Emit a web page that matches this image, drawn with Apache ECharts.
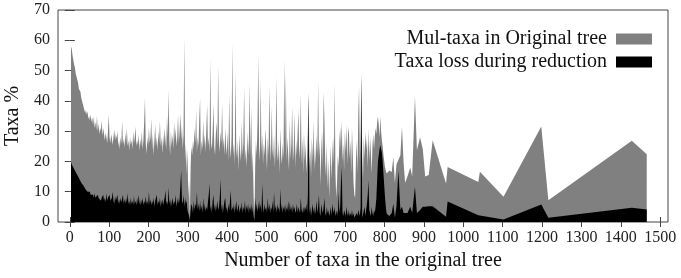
<!DOCTYPE html>
<html>
<head>
<meta charset="utf-8">
<script src="https://cdn.jsdelivr.net/npm/echarts@6/dist/echarts.min.js"></script>
<style>html,body{margin:0;padding:0;background:#fff}#c{width:681px;height:278px}</style>
</head>
<body>
<div id="c"></div>
<script>
// ---- data ----
const taxa = [
 3,5,7,9,11,13,15,17,19,21, 23,25,27,29,31,33,35,37,39,41, 43,45,47,49,51,53,55,57,59,61,
 63,65,67,69,71,73,75,77,79,81, 83,85,87,89,91,93,95,97,99,101, 103,105,107,109,111,113,115,117,119,121,
 123,125,127,129,131,133,135,137,139,141, 143,145,147,149,151,153,155,157,159,161, 163,165,167,169,171,173,175,177,179,181,
 183,185,187,189,191,193,195,197,199,
 201,203,205,207,209,211,213,215,217,219, 221,223,225,227,229,231,233,235,237,239, 241,243,245,247,249,251,253,255,257,259,
 261,263,265,267,269,271,273,275,277,279, 281,283,285,287,289,291,293,295,297,299, 301,303,305,307,309,
 311,313,315,317,319,321,323,325,327,329, 331,333,335,337,339,341,343,345,347,349, 351,353,355,357,359,361,363,365,367,369,
 371,373,375,377,379,381,383,385,387,389, 391,393,395,397,
 399,401,403,405,407,409,411,413,415,417, 419,421,423,425,427,429,431,433,435,437, 439,441,443,445,447,449,451,453,455,457,
 459,461,463,465,467,469,471,473,475,477, 479,481,483,485,487,489,491,493,495,497, 499,501,503,505,507,509,511,513,515,517,
 519,521,523,525,527,529,531,533,535,537, 539,541,543,545,547,549,551,553,555,557, 559,561,563,565,567,569,571,573,575,577,
 579,581,583,585,587,589,591,593,
 595,597,599,601,603,605,607,609,611,613, 615,617,619,621,623,625,627,629,631,633, 635,637,639,641,643,645,647,649,651,653,
 655,657,659,661,663,665,667,669,671,673, 675,677,679,681,683,685,687,689,691,693, 695,697,699,701,703,705,707,709,711,713,
 715,717,719,721,723,725,727,729,731,733, 735,737,739,741,743,745,747,749,751,753, 755,757,759,761,763,765,767,769,771,773,
 775,777,779,781,783,785,787,789,791,793, 795,797,799,801,803,805,
 812,818,822,826,830,835,840,844,848,852, 858,865,870,877,882,890,897,903,912,922, 956,960,1038,1042,1102,1198,1216,1428,1466
];
const mulTaxa = [
 58,57,55,54.5,52,51,49,48.5,47,46, 44,44.5,43,41,40.5,39,38,37.5,36,37, 35.5,36.5,34,35,33.5,35.5,33,34.5,32,34.8,
 31,33,30.5,35,30,32.5,29,31,30,33.5, 28.5,31,29,27,29.5,28,26,30,35.5,28, 26,29,27.5,25.5,28,30.5,27,29,27.5,30,
 25,27,24,28,26,33.5,25.5,27.5,24.5,29.5, 26,31,25,27,23.5,28,25.5,27,24,30, 26,28,31.5,25,27,25.5,29,23.5,27.5,25,
 30,24,27,33,41,26,22.5,28,25,
 31,26,28,34,24,29,22,27,32,25, 28,23.5,30,26,33.5,25,28,22.5,29,25, 31,27,24,35,28,43.5,27,22,30,25,
 29,24,33,27,31,25,28,35.5,26,30, 36,27,32,24,29,61,20,26,16,24, 8,14,1,18,25,
 22,27,24,31,26,37,23,28,25,34, 40.8,22,27,24,33.6,25,29,23,31,38.6, 25,28,23,54,26,24,30,39,25,22,
 29,33,25,51.8,27,23,30,26,39,24, 28,22,31,25,
 22,30,20,42,25,21,28,59,22,26, 19,49.6,24,21,27,17,29,23,20,33, 22,26,44.7,20,24,18,30,22,27,45.8,
 21,38,16,23,9,0.5,18,27,22,33, 55,25,20,47,23,29,19,26,22,31, 24,17,28,22,45,26,20,38,24,21,
 29,18,25,48,23,20,27,16,31,22, 19,26,21,54,24,49,20,28,22,17, 33.6,21,26,38,20,24,36,18,27,22,
 30,37,21,25,42.4,19,28,16,
 30,20,26,16,22,31,43,18,24,15, 28,20,33.6,17,25,19,29,22,46.4,21, 27,12,24,30,18,43,33.6,20,15,26,
 11,21,8,17,25,14,22,28,19,45.8, 16,8,13,22,18,27,31,24,33.7,20, 26,17,30,23,32,19,29,31.4,21,27,
 16,31,22,13,9,8,20,27,16,35, 44.7,20,30,49,22,14,28,21,30,24, 27.5,18,31,20,28,23,16,25,29,24,
 28,31,29,33,34.8,32,28,34.8,30,27, 25,22,20,18,17,16,
 17,16.5,21.5,13,19,19.5,22,31.5,20,13, 15,18,15,41.4,23.7,28,24,15,15.5,27, 12.7,18.2,13.2,16.6,8.3,31.5,7.2,26.8,22.4
];
const taxaLoss = [
 20,19,18.5,18,17.5,17,16.5,16,15.5,15, 14.5,14,13.5,13,12.5,13,12,11.5,11,11.5, 10.5,10,10.5,9.5,10,9,9.5,8.5,9,8,
 9.5,8,8.5,7.5,9,8,7.5,8.5,7,8, 7.5,9,7,8,6.5,9.5,7,8,7.5,9, 7,6.5,8,10,7,6,8.5,7,6.5,9,
 6,7.5,6,8,6.5,7,9,6,7.5,6, 8,6.5,9.5,6,7,5.5,8,6,7,5.5, 8.5,6,7,5.5,8,6,9,6.5,5.5,7.5,
 6,8,5.5,7,6,8.5,6,7,5.5,
 10,6,7.5,5.5,7,6,8,5,7,6.5, 9,5.5,7,6,8,5,6.5,7.5,5.5,6, 8,10.5,6,7,5.5,11.5,6,7.5,5,6.5,
 8,5.5,7,6,9,5,6.5,8,6,7.5, 12,17,7,6,9,5,8,6,7,4, 3,2,0.5,4,6,
 5,3,7,4,6,5,10,4,6,3.5, 7,4,5.5,3,8,4,6,3.5,5,4, 6.5,9,12.7,4,5.5,3,7,9,4,6,
 3.5,5,7,4,5,8,14.3,4,6,3, 5,7,8,4,
 5,3,6,4,7,10.5,3.5,5,4,6, 3,5,7,3.5,4.5,6,3,5,4,6.5, 3,5,4,7,3,5.5,4,6,3,5,
 4,6,3,5,2,0.3,8,4,6,3.5, 5,7,4,6,3,12.7,5,3,6,4, 5,3,8,4,6,3,5,4,7,3,
 9.9,4,5.5,3,6,4,5,3,11,4, 6,3,5,4,6,3,5,4,7,3, 6.5,4,5,3,6,4,5,3,4,6,
 3,5,4,3,8,4,3,5,
 3,5,4,6,3,9,42,3,5,2, 4,6,3,5,2.5,4,7,3,5,9, 3,2,6,4,3,5,8,3,2,5,
 3,4,2,3,5,2,6,4,3,5, 2,3,4,2,10,3,5,13,18.2,3, 2,4,3,2,5,3,2,4,2,3,
 2,4,2,3,1.5,1,2,3,2,4, 3,2,5,49,1.5,2.5,3,5,2,4, 6,9,13.8,4,3,2,5,3,2,4,
 3,5,8,14,20,22,24,25.4,24,23, 20,16,12,8,5,2.8,
 2,3,6,1.5,5,17,4,5,3,2.8, 3,5,3,11.6,3,4,5,5,5.2,5.2, 1.7,6.8,2.2,2.4,0.8,5.8,1.4,4.7,4.1
];
const xTicks = [0,100,200,300,400,500,600,700,800,900,1000,1100,1200,1300,1400,1500];
const seriesNames = ['Mul-taxa in Original tree', 'Taxa loss during reduction'];
const xTitle = 'Number of taxa in the original tree';
const yTitle = 'Taxa %';

// ---- chart ----
const font = 'Liberation Serif';
const grayData = taxa.map((x, i) => [x, mulTaxa[i]]);
const blackData = taxa.map((x, i) => [x, taxaLoss[i]]);
const frame = '#444';
const tickRich = {t: {fontFamily: font, fontSize: 16, color: '#222'}};
const chart = echarts.init(document.getElementById('c'), null, {renderer: 'canvas'});
chart.setOption({
  animation: false,
  backgroundColor: '#fff',
  textStyle: {fontFamily: font},
  grid: {left: 58, right: 13, top: 10, bottom: 56, show: true, borderColor: frame, borderWidth: 1,
         backgroundColor: 'transparent', containLabel: false, outerBoundsMode: 'none'},
  legend: {
    orient: 'vertical', right: 24, top: 24, align: 'right',
    itemWidth: 36, itemHeight: 11, itemGap: 3,
    icon: 'rect',
    textStyle: {fontFamily: font, fontSize: 20, color: '#111', lineHeight: 20, padding: [0, 4, 0, 0]},
    data: seriesNames
  },
  xAxis: [{
    type: 'value', min: -30, max: 1520, position: 'bottom',
    name: xTitle, nameLocation: 'middle', nameGap: 29,
    nameTextStyle: {fontFamily: font, fontSize: 20, color: '#111'},
    axisLine: {show: false},
    axisTick: {show: true, inside: true, length: 5, customValues: xTicks, lineStyle: {color: frame}},
    axisLabel: {customValues: xTicks, margin: 8, formatter: v => '{t|' + v + '}', rich: tickRich,
                fontFamily: font, fontSize: 16, color: '#222'},
    splitLine: {show: false}
  }, {
    type: 'value', min: -30, max: 1520, position: 'top',
    axisLine: {show: false},
    axisTick: {show: true, inside: true, length: 5, customValues: xTicks, lineStyle: {color: frame}},
    axisLabel: {show: false},
    splitLine: {show: false}
  }],
  yAxis: [{
    type: 'value', min: 0, max: 70, interval: 10, position: 'left',
    name: yTitle, nameLocation: 'middle', nameGap: 34, nameRotate: 90,
    nameTextStyle: {fontFamily: font, fontSize: 20, color: '#111'},
    axisLine: {show: false},
    axisTick: {show: true, inside: true, length: 5, lineStyle: {color: frame}},
    axisLabel: {margin: 8, formatter: v => '{t|' + v + '}', rich: tickRich,
                fontFamily: font, fontSize: 16, color: '#222'},
    splitLine: {show: false}
  }, {
    type: 'value', min: 0, max: 70, interval: 10, position: 'right',
    axisLine: {show: false},
    axisTick: {show: true, inside: true, length: 5, lineStyle: {color: frame}},
    axisLabel: {show: false},
    splitLine: {show: false}
  }],
  series: [{
    name: seriesNames[0], type: 'line', xAxisIndex: 0, yAxisIndex: 0,
    data: grayData, showSymbol: false, symbol: 'none',
    color: '#808080', itemStyle: {color: '#808080'},
    lineStyle: {width: 0, color: '#808080'},
    areaStyle: {color: '#808080', opacity: 1},
    z: 2
  }, {
    name: seriesNames[1], type: 'line', xAxisIndex: 0, yAxisIndex: 0,
    data: blackData, showSymbol: false, symbol: 'none',
    color: '#000', itemStyle: {color: '#000'},
    lineStyle: {width: 0, color: '#000'},
    areaStyle: {color: '#000', opacity: 1},
    z: 3
  }]
});
</script>
</body>
</html>
